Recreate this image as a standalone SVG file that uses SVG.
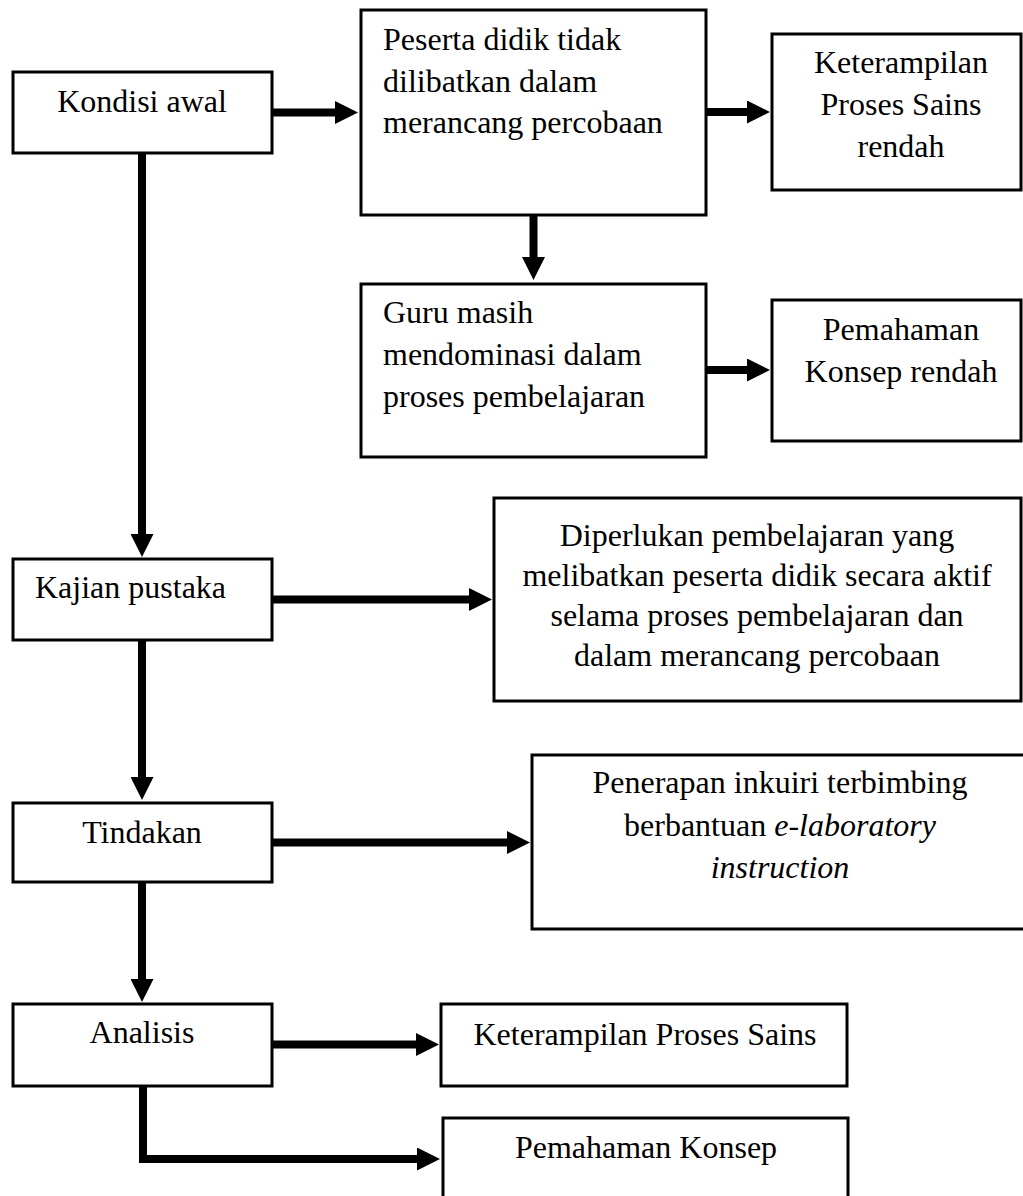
<svg xmlns="http://www.w3.org/2000/svg" width="1023" height="1196" viewBox="0 0 1023 1196">
<style>
.box{fill:#fff;stroke:#000;stroke-width:3}
text{font-family:"Liberation Serif","Times New Roman",serif;font-size:32px;fill:#000}
.c{text-anchor:middle}
.conn{fill:none;stroke:#000;stroke-width:8;marker-end:url(#arr)}
</style>
<defs>
<marker id="arr" viewBox="0 0 23 23" refX="1" refY="11.5" markerWidth="23" markerHeight="23" markerUnits="userSpaceOnUse" orient="auto">
<path d="M0,0 L23,11.5 L0,23 z" fill="#000"/>
</marker>
</defs>
<rect width="1023" height="1196" fill="#fff"/>
<g id="connectors">
<path class="conn" d="M272,112.5 H336"/>
<path class="conn" d="M707,112 H748"/>
<path class="conn" d="M533.5,216 V258"/>
<path class="conn" d="M707,370 H748"/>
<path class="conn" d="M142,154 V535"/>
<path class="conn" d="M273,599.5 H470"/>
<path class="conn" d="M142,641 V778"/>
<path class="conn" d="M273,842.5 H508"/>
<path class="conn" d="M142,883 V980"/>
<path class="conn" d="M273,1044.5 H417"/>
<path class="conn" d="M143,1087 V1159 H418"/>
</g>
<g id="kondisi-awal">
<rect class="box" x="13" y="72" width="259" height="81"/>
<text class="c" x="142" y="112">Kondisi awal</text>
</g>
<g id="peserta-didik">
<rect class="box" x="361" y="10" width="345" height="205"/>
<text x="383" y="50">Peserta didik tidak</text>
<text x="383" y="92">dilibatkan dalam</text>
<text x="383" y="133">merancang percobaan</text>
</g>
<g id="kps-rendah">
<rect class="box" x="772" y="34" width="249" height="156"/>
<text class="c" x="901" y="73">Keterampilan</text>
<text class="c" x="901" y="115">Proses Sains</text>
<text class="c" x="901" y="157">rendah</text>
</g>
<g id="guru">
<rect class="box" x="361" y="284" width="345" height="173"/>
<text x="383" y="323">Guru masih</text>
<text x="383" y="365">mendominasi dalam</text>
<text x="383" y="407">proses pembelajaran</text>
</g>
<g id="pk-rendah">
<rect class="box" x="772" y="300" width="249" height="141"/>
<text class="c" x="901" y="340">Pemahaman</text>
<text class="c" x="901" y="382">Konsep rendah</text>
</g>
<g id="kajian-pustaka">
<rect class="box" x="13" y="559" width="259" height="81"/>
<text x="35" y="598">Kajian pustaka</text>
</g>
<g id="diperlukan">
<rect class="box" x="494" y="498" width="527" height="203"/>
<text class="c" x="757" y="546">Diperlukan pembelajaran yang</text>
<text class="c" x="757" y="586">melibatkan peserta didik secara aktif</text>
<text class="c" x="757" y="626">selama proses pembelajaran dan</text>
<text class="c" x="757" y="666">dalam merancang percobaan</text>
</g>
<g id="tindakan">
<rect class="box" x="13" y="803" width="259" height="79"/>
<text class="c" x="142" y="843">Tindakan</text>
</g>
<g id="penerapan">
<rect class="box" x="532" y="755" width="500" height="174"/>
<text class="c" x="780" y="793">Penerapan inkuiri terbimbing</text>
<text class="c" x="780" y="836">berbantuan <tspan font-style="italic">e-laboratory</tspan></text>
<text class="c" x="780" y="878" font-style="italic">instruction</text>
</g>
<g id="analisis">
<rect class="box" x="13" y="1004" width="259" height="82"/>
<text class="c" x="142" y="1043">Analisis</text>
</g>
<g id="kps">
<rect class="box" x="441" y="1004" width="406" height="82"/>
<text class="c" x="645" y="1045">Keterampilan Proses Sains</text>
</g>
<g id="pk">
<rect class="box" x="443" y="1118" width="405" height="100"/>
<text class="c" x="646" y="1158">Pemahaman Konsep</text>
</g>
</svg>
